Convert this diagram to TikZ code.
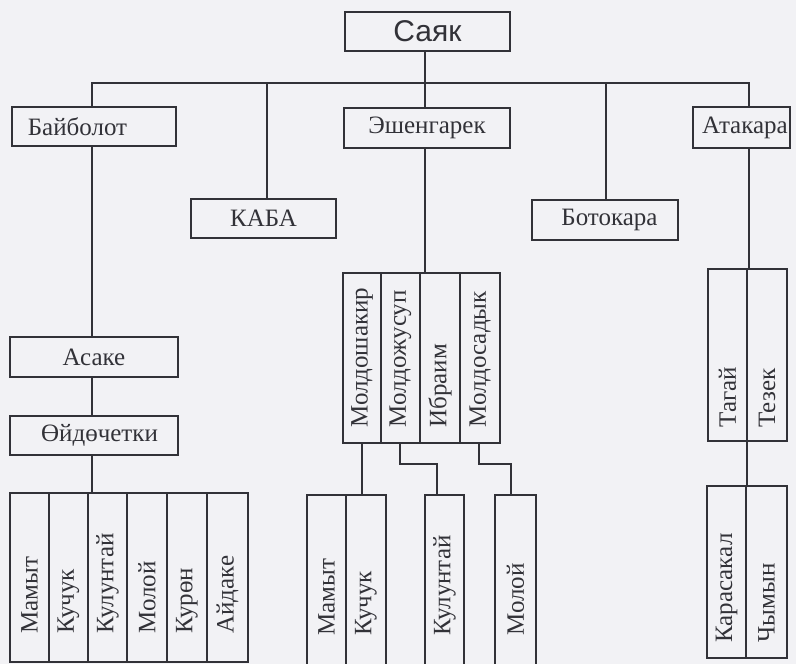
\documentclass[tikz,border=0pt]{standalone}
\usepackage{fontspec}
\setmainfont{Liberation Serif}
\newfontfamily\sayakfont{Liberation Sans}
\definecolor{ink}{RGB}{50,50,56}
\definecolor{paper}{RGB}{242,242,245}
\newcommand\famBox[6]{\node[box,minimum width={(#4-#2)*1pt},minimum height={(#5-#3)*1pt}] (#1) at ({(#2+#4)/2},{(#3+#5)/2}) {#6};}
\newcommand\famCol[7]{\node[box,minimum width={(#4-#2)*1pt},minimum height={(#5-#3)*1pt}] (#1) at ({(#2+#4)/2},{(#3+#5)/2}) {};
  \node[vtext] (#1-t) at ([yshift=#6pt]#1.south) {#7};}
\begin{document}
\begin{tikzpicture}[x=1pt,y=-1pt,
  box/.style={draw=ink,line width=1.5pt,inner sep=0pt,text=ink,font=\fontsize{25}{25}\selectfont},
  vtext/.style={rotate=90,anchor=west,inner sep=0pt,text=ink,font=\fontsize{25}{25}\selectfont},
  link/.style={draw=ink,line width=1.6pt}]
\useasboundingbox (0,0) rectangle (796,664);
\clip (0,0) rectangle (796,664);
\fill[paper] (0,0) rectangle (796,664);
% x positions of vertical links
\coordinate (xL) at (92,0);
\coordinate (xK) at (267,0);
\coordinate (xE) at (425,0);
\coordinate (xB) at (606,0);
\coordinate (xR) at (749,0);
\coordinate (xM1) at (362,0);
\coordinate (xM2) at (400,0);
\coordinate (xM4) at (479,0);
\coordinate (xC3) at (437,0);
\coordinate (xC4) at (511,0);
\coordinate (xT) at (747,0);
\coordinate (bar) at (0,83);
\coordinate (jog) at (0,464);
% top level
\node[box,minimum width=165pt,minimum height=39pt,font=\sayakfont\fontsize{30}{30}\selectfont] (sayak) at (427.5,31.5) {Саяк};
\famBox{bay}{12}{107}{176}{146}{\hspace*{-33pt}Байболот}
\famBox{kaba}{191}{199}{336}{238}{КАБА}
\famBox{esh}{344}{108}{510}{148}{Эшенгарек}
\famBox{bot}{532}{200}{678}{240}{\hspace*{9pt}Ботокара}
\famBox{ata}{693}{107}{790}{148}{\hspace*{7pt}Атакара}
% Baibolot branch
\famBox{asa}{10}{337}{178}{377}{Асаке}
\famBox{oid}{10}{416}{178}{455}{\hspace*{11pt}Өйдөчетки}
\famCol{l1}{10}{493}{49}{662}{29}{Мамыт}
\famCol{l2}{49}{493}{88}{662}{29}{Кучук}
\famCol{l3}{88}{493}{127}{662}{29}{Кулунтай}
\famCol{l4}{127}{493}{167}{662}{29}{Молой}
\famCol{l5}{167}{493}{207}{662}{29}{Курөн}
\famCol{l6}{207}{493}{248}{662}{29}{Айдаке}
% Eshengarek branch
\famCol{m1}{343}{273}{381}{443}{16}{Молдошакир}
\famCol{m2}{381}{273}{420}{443}{16}{Молдожусуп}
\famCol{m3}{420}{273}{460}{443}{16}{Ибраим}
\famCol{m4}{460}{273}{500}{443}{16}{Молдосадык}
\famCol{b1}{307}{495}{346}{672}{37}{Мамыт}
\famCol{b2}{346}{495}{386}{672}{37}{Кучук}
\famCol{b3}{425}{495}{464}{672}{37}{Кулунтай}
\famCol{b4}{495}{495}{536}{672}{37}{Молой}
% Atakara branch
\famCol{tg}{708}{269}{747}{441}{14}{Тагай}
\famCol{tz}{747}{269}{787}{441}{14}{Тезек}
\famCol{ka}{707}{486}{746}{658}{16}{Карасакал}
\famCol{ch}{746}{486}{787}{658}{16}{Чымын}
% connectors
\draw[link] (xE |- sayak.south) -- (xE |- esh.north);
\draw[link] (xL |- bay.north) -- (xL |- bar) -- (xR |- bar) -- (xR |- ata.north);
\draw[link] (xK |- bar) -- (xK |- kaba.north);
\draw[link] (xB |- bar) -- (xB |- bot.north);
\draw[link] (xL |- bay.south) -- (xL |- asa.north);
\draw[link] (xL |- asa.south) -- (xL |- oid.north);
\draw[link] (xL |- oid.south) -- (xL |- l3.north);
\draw[link] (xE |- esh.south) -- (xE |- m3.north);
\draw[link] (xM1 |- m1.south) -- (xM1 |- b2.north);
\draw[link] (xM2 |- m2.south) -- (xM2 |- jog) -- (xC3 |- jog) -- (xC3 |- b3.north);
\draw[link] (xM4 |- m4.south) -- (xM4 |- jog) -- (xC4 |- jog) -- (xC4 |- b4.north);
\draw[link] (xR |- ata.south) -- (xR |- tg.north);
\draw[link] (xT |- tg.south) -- (xT |- ka.north);
\end{tikzpicture}
\end{document}
